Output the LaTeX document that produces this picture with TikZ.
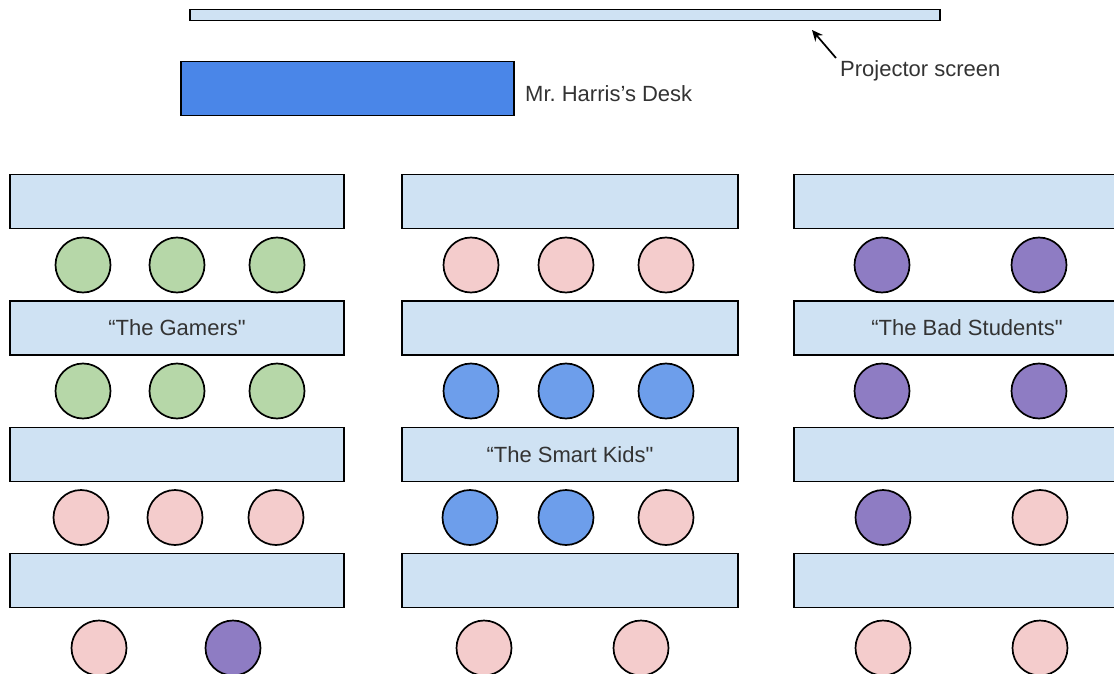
\documentclass[tikz,border=0pt]{standalone}
\usepackage{fontspec}
\newfontfamily\labelfont{Liberation Sans}
\usetikzlibrary{arrows.meta}
\definecolor{tablefill}{HTML}{CFE2F3}
\definecolor{deskfill}{HTML}{4A86E8}
\definecolor{gamer}{HTML}{B6D7A8}
\definecolor{other}{HTML}{F4CCCC}
\definecolor{smart}{HTML}{6D9EEB}
\definecolor{bad}{HTML}{8E7CC3}
\definecolor{ink}{HTML}{333333}
\tikzset{
  outline/.style={draw=black, line width=1.7pt},
  labeltext/.style={text=ink, font=\labelfont\fontsize{22}{26}\selectfont},
  tablebox/.style={outline, rectangle, fill=tablefill, minimum height=54pt, inner sep=0pt},
  seat/.style={outline, circle, minimum size=55pt, inner sep=0pt, fill=#1},
  caption/.style={labeltext, inner sep=0pt, anchor=west},
}
\begin{document}
\begin{tikzpicture}[x=1pt, y=-1pt]
\useasboundingbox (0,0) rectangle (1114,674);

% front of the room
\node[outline, rectangle, fill=tablefill, minimum width=750pt, minimum height=11pt, inner sep=0pt] (screen) at (565,15) {};
\node[outline, rectangle, fill=deskfill, minimum width=333pt, minimum height=54pt, inner sep=0pt] (desk) at (347.5,88.5) {};
\node[caption] (desklabel) at (525,94) {Mr.\ Harris’s Desk};
\node[caption] (screenlabel) at (840,71) {Projector screen};
\coordinate (ptail) at (836,58);
\coordinate (ptip) at (812,30);
\draw[line width=1.7pt, -{Stealth[length=11pt,width=10pt]}] (ptail) -- (ptip);

% tables, three columns by four rows
\foreach \r/\y in {1/201.5, 2/328, 3/454.5, 4/580.5} {
  \node[tablebox, minimum width=334pt] (t1\r) at (177,\y) {};
  \node[tablebox, minimum width=336pt] (t2\r) at (570,\y) {};
  \node[tablebox, minimum width=346pt] (t3\r) at (967,\y) {};
}
\node[labeltext] at (t12) {“The Gamers"};
\node[labeltext] at (t23) {“The Smart Kids"};
\node[labeltext] at (t32) {“The Bad Students"};

% students, left column
\foreach \i/\x/\y/\c in {1/83/265/gamer, 2/177/265/gamer, 3/277/265/gamer,
                         4/83/391/gamer, 5/177/391/gamer, 6/277/391/gamer,
                         7/81/517.5/other, 8/175/517.5/other, 9/276/517.5/other,
                         10/99/648/other, 11/233/648/bad}
  \node[seat=\c] (sa\i) at (\x,\y) {};

% students, middle column
\foreach \i/\x/\y/\c in {1/471/265/other, 2/566/265/other, 3/666/265/other,
                         4/471/391/smart, 5/566/391/smart, 6/666/391/smart,
                         7/470/517.5/smart, 8/566/517.5/smart, 9/666/517.5/other,
                         10/484/648/other, 11/641/648/other}
  \node[seat=\c] (sb\i) at (\x,\y) {};

% students, right column
\foreach \i/\x/\y/\c in {1/882/265/bad, 2/1039/265/bad,
                         3/882/391/bad, 4/1039/391/bad,
                         5/883/517.5/bad, 6/1040/517.5/other,
                         7/883/648/other, 8/1040/648/other}
  \node[seat=\c] (sc\i) at (\x,\y) {};
\end{tikzpicture}
\end{document}
